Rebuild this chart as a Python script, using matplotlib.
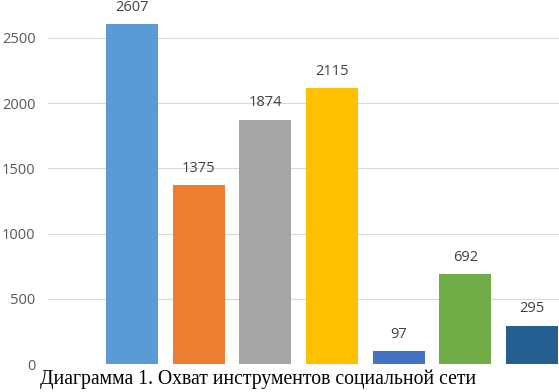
import matplotlib
matplotlib.use("Agg")
import matplotlib.pyplot as plt

values = [2607, 1375, 1874, 2115, 97, 692, 295]
colours = ["#5B9BD5", "#ED7D31", "#A5A5A5", "#FFC000", "#4472C4", "#70AD47", "#255E91"]
yticks = [0, 500, 1000, 1500, 2000, 2500]
caption = "Диаграмма 1. Охват инструментов социальной сети"

fig = plt.figure(figsize=(5.59, 3.92), dpi=100)
ax = fig.add_axes([48 / 559, 28 / 392, 1 - 48 / 559, 364 / 392])

x = list(range(len(values)))
bars = ax.bar(x, values, width=0.78, color=colours, zorder=3)
for xi, v in zip(x, values):
    ax.text(xi, v + 70, str(v), ha="center", va="bottom",
            fontsize=10.5, color="#404040", family="Open Sans")

ax.set_xlim(-1.26, 6.405)
ax.set_ylim(0, 2791)
ax.set_yticks(yticks)
ax.set_yticklabels([str(t) for t in yticks], fontsize=10.5, color="#595959",
                   family="Open Sans")
ax.tick_params(axis="y", length=0, pad=9)
ax.set_xticks([])
ax.grid(axis="y", color="#D9D9D9", linewidth=0.8, zorder=0)
for s in ["top", "right", "left", "bottom"]:
    ax.spines[s].set_visible(False)

fig.text(258 / 559, 1 - 379 / 392, caption, ha="center", va="center",
         fontsize=14.2, family="Liberation Serif", color="black")

fig.savefig("out.png", dpi=100)
